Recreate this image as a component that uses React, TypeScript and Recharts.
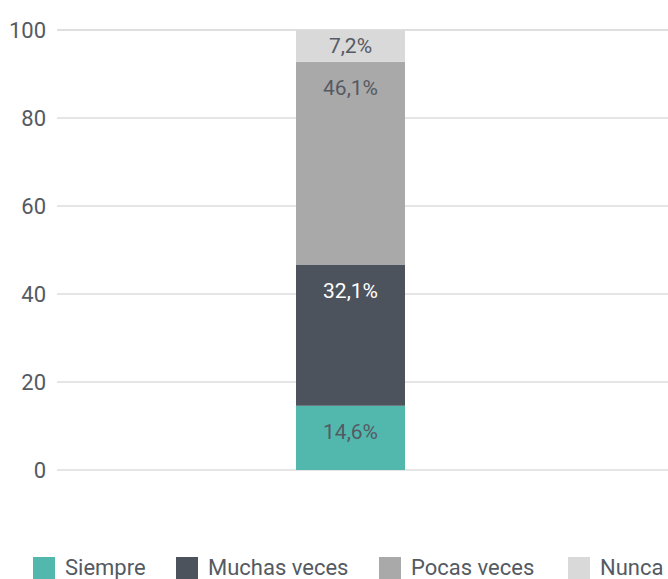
import { BarChart, Bar, XAxis, YAxis, CartesianGrid, LabelList } from "recharts";

const categories = ["Total"];
const siempre = [14.6];
const muchasVeces = [32.1];
const pocasVeces = [46.1];
const nunca = [7.2];
const yTicks = [0, 20, 40, 60, 80, 100];

const seriesNames = ["Siempre", "Muchas veces", "Pocas veces", "Nunca"];
const seriesKeys = ["siempre", "muchas", "pocas", "nunca"];
const seriesColors = ["#52b8ae", "#4d535c", "#a9a9a9", "#d9d9d9"];
const labelColors = ["#555a62", "#ffffff", "#555a62", "#555a62"];

// legend item left edges, matched to the original layout
const legendX = [33, 176, 379, 568];

const data = categories.map((name, i) => ({
  name,
  siempre: siempre[i],
  muchas: muchasVeces[i],
  pocas: pocasVeces[i],
  nunca: nunca[i],
}));

const fmt = (v: number) => v.toFixed(1).replace(".", ",") + "%";

const makeLabel = (color: string) => (props: any) => {
  const { x, y, width, height, value } = props;
  const h = Math.abs(height);
  const top = height < 0 ? y + height : y;
  return (
    <text
      x={x + width / 2}
      y={top + Math.min(26, h / 2)}
      textAnchor="middle"
      dominantBaseline="central"
      fill={color}
      fontSize={21}
    >
      {fmt(value)}
    </text>
  );
};

export default function App() {
  return (
    <div style={{ position: "absolute", left: 0, top: 0, width: 668, height: 579, overflow: "hidden", fontFamily: "Roboto, sans-serif", background: "#fff" }}>
      <BarChart width={668} height={579} data={data} margin={{ top: 30, right: 0, bottom: 109, left: 0 }}>
        <CartesianGrid vertical={false} stroke="#dcdcdc" strokeWidth={1.5} />
        <XAxis dataKey="name" hide padding={{ left: 0, right: 24 }} />
        <YAxis
          domain={[0, 100]}
          ticks={yTicks}
          width={57}
          axisLine={false}
          tickLine={false}
          tickMargin={5}
          tick={{ fill: "#555a62", fontSize: 22 }}
        />
        {seriesKeys.map((k, i) => (
          <Bar key={k} dataKey={k} stackId="a" fill={seriesColors[i]} barSize={109} isAnimationActive={false}>
            <LabelList dataKey={k} content={makeLabel(labelColors[i])} />
          </Bar>
        ))}
      </BarChart>
      {seriesNames.map((n, i) => (
        <div key={n} style={{ ...legendItem, left: legendX[i] }}>
          <span style={{ ...swatch, background: seriesColors[i] }} />
          <span>{n}</span>
        </div>
      ))}
    </div>
  );
}

const legendItem: React.CSSProperties = {
  position: "absolute",
  top: 555,
  display: "flex",
  alignItems: "center",
  gap: 10,
  fontSize: 22,
  color: "#555a62",
  whiteSpace: "nowrap",
  lineHeight: "26px",
};

const swatch: React.CSSProperties = {
  display: "inline-block",
  width: 22,
  height: 22,
};
